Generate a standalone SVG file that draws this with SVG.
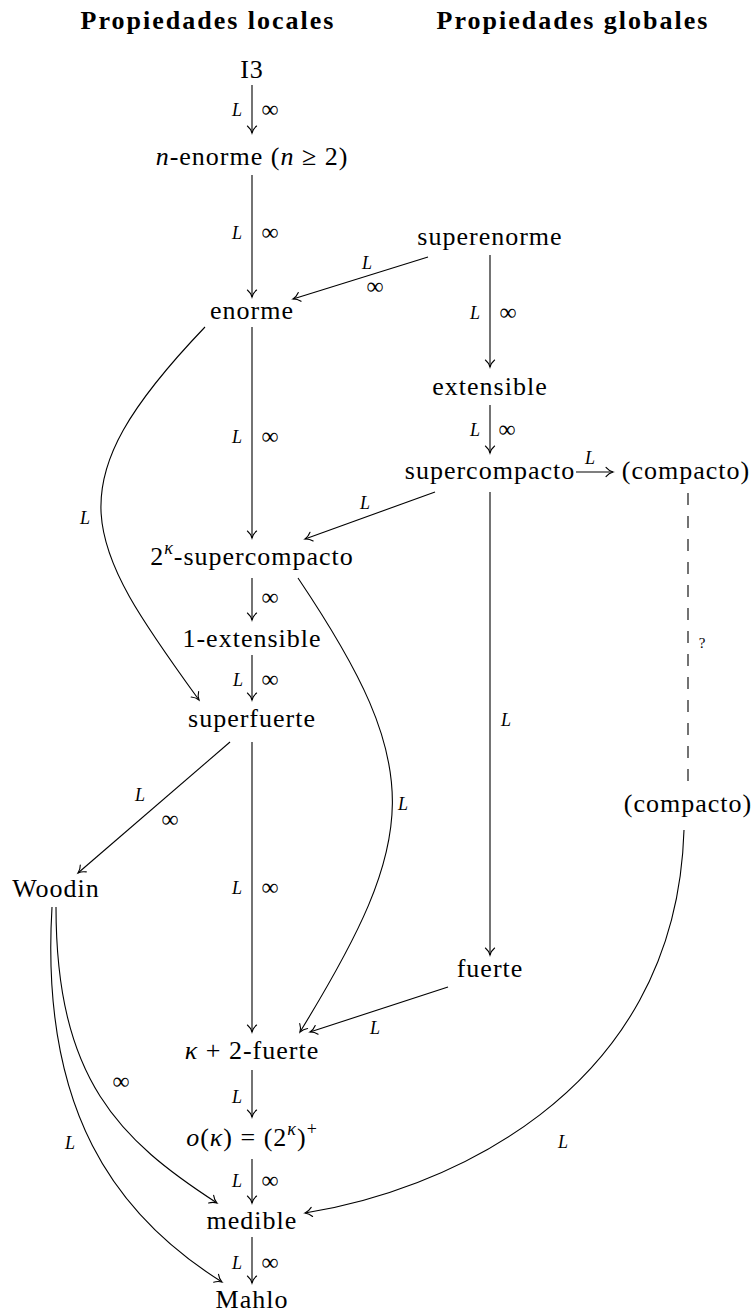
<svg xmlns="http://www.w3.org/2000/svg" width="755" height="1314" viewBox="0 0 755 1314" font-family="Liberation Serif, DejaVu Serif, serif">
<defs>
<marker id="to" markerUnits="userSpaceOnUse" markerWidth="14" markerHeight="14" viewBox="-10 -7 14 14" refX="0" refY="0" orient="auto">
<path d="M-7,-4.6 C-5,-2.2 -2,-0.6 0,0 C-2,0.6 -5,2.2 -7,4.6" fill="none" stroke="#000" stroke-width="1.1" stroke-linecap="round"/>
</marker>
<style>
text{font-family:"Liberation Serif","DejaVu Serif",serif;fill:#000}
.t{font-size:26px;letter-spacing:1px;text-anchor:middle}
.h{font-weight:bold;letter-spacing:2px}
.i{font-style:italic}
.sup{font-size:18px;font-style:italic}
.L{font-size:18px;font-style:italic;text-anchor:middle}
.inf{font-size:24px;text-anchor:middle}
.q{font-size:15px;text-anchor:middle}
.e{fill:none;stroke:#000;stroke-width:1.1;marker-end:url(#to)}
.d{fill:none;stroke:#000;stroke-width:1.1;stroke-dasharray:12 11}
</style>
</defs>
<g id="headings">
<text class="t h" x="208" y="29">Propiedades locales</text>
<text class="t h" x="573" y="29">Propiedades globales</text>
</g>
<g id="connectors">
<path class="e" d="M252,85 V133"/>
<path class="e" d="M252,175 V297"/>
<path class="e" d="M428,257 L293,299"/>
<path class="e" d="M490,255 V367"/>
<path class="e" d="M490,405 V453"/>
<path class="e" d="M576,472 H613"/>
<path class="e" d="M252,327 V538"/>
<path class="e" d="M435,492 L305,539"/>
<path class="e" d="M205,327 C52,487 83,540 199,700"/>
<path class="e" d="M252,578 V620"/>
<path class="e" d="M252,655 V700"/>
<path class="e" d="M230,742 L78,873"/>
<path class="e" d="M252,742 V1032"/>
<path class="e" d="M490,492 V955"/>
<path class="d" d="M688,493 V787"/>
<path class="e" d="M298,578 C427,770 420,836 300,1032"/>
<path class="e" d="M448,987 L310,1032"/>
<path class="e" d="M252,1070 V1117"/>
<path class="e" d="M252,1159 V1203"/>
<path class="e" d="M252,1237 V1283"/>
<path class="e" d="M56,907 C56,1080 120,1140 217,1203"/>
<path class="e" d="M52,907 C40,1110 115,1215 222,1282"/>
<path class="e" d="M684,830 C676,1099 434,1193 305,1213"/>
</g>
<g id="edge-labels">
<text class="L" x="237" y="116">L</text><text class="inf" x="270" y="117">∞</text>
<text class="L" x="237" y="239">L</text><text class="inf" x="270" y="240">∞</text>
<text class="L" x="367" y="269">L</text><text class="inf" x="375" y="294">∞</text>
<text class="L" x="475" y="319">L</text><text class="inf" x="508" y="320">∞</text>
<text class="L" x="475" y="436">L</text><text class="inf" x="507" y="437">∞</text>
<text class="L" x="590" y="464">L</text>
<text class="L" x="237" y="443">L</text><text class="inf" x="270" y="444">∞</text>
<text class="L" x="365" y="509">L</text>
<text class="L" x="85" y="524">L</text>
<text class="inf" x="270" y="605">∞</text>
<text class="L" x="238" y="686">L</text><text class="inf" x="270" y="687">∞</text>
<text class="L" x="140" y="801">L</text><text class="inf" x="170" y="827">∞</text>
<text class="L" x="237" y="894">L</text><text class="inf" x="270" y="895">∞</text>
<text class="L" x="506" y="726">L</text>
<text class="q" x="702" y="648">?</text>
<text class="L" x="403" y="810">L</text>
<text class="L" x="375" y="1034">L</text>
<text class="L" x="237" y="1103">L</text>
<text class="L" x="237" y="1187">L</text><text class="inf" x="270" y="1188">∞</text>
<text class="L" x="237" y="1269">L</text><text class="inf" x="270" y="1270">∞</text>
<text class="inf" x="121" y="1089">∞</text>
<text class="L" x="70" y="1149">L</text>
<text class="L" x="563" y="1148">L</text>
</g>
<g id="n-I3"><text class="t" x="252" y="78">I3</text></g>
<g id="n-nenorme"><text class="t" x="252" y="165"><tspan class="i">n</tspan>-enorme (<tspan class="i">n</tspan> ≥ 2)</text></g>
<g id="n-enorme"><text class="t" x="252" y="319">enorme</text></g>
<g id="n-superenorme"><text class="t" x="490" y="245">superenorme</text></g>
<g id="n-extensible"><text class="t" x="490" y="395">extensible</text></g>
<g id="n-supercompacto"><text class="t" x="490" y="479">supercompacto</text></g>
<g id="n-compacto-top"><text class="t" x="686" y="479">(compacto)</text></g>
<g id="n-2k-supercompacto"><text class="t" x="252" y="565">2<tspan class="sup" dy="-11">κ</tspan><tspan dy="11">-supercompacto</tspan></text></g>
<g id="n-1-extensible"><text class="t" x="252" y="647">1-extensible</text></g>
<g id="n-superfuerte"><text class="t" x="252" y="727">superfuerte</text></g>
<g id="n-woodin"><text class="t" x="56" y="897">Woodin</text></g>
<g id="n-compacto-bottom"><text class="t" x="688" y="812">(compacto)</text></g>
<g id="n-fuerte"><text class="t" x="490" y="977">fuerte</text></g>
<g id="n-k2-fuerte"><text class="t" x="252" y="1059"><tspan class="i">κ</tspan> + 2-fuerte</text></g>
<g id="n-ok"><text class="t" x="252" y="1146"><tspan class="i">o</tspan>(<tspan class="i">κ</tspan>) = (2<tspan class="sup" dy="-11">κ</tspan><tspan dy="11">)</tspan><tspan font-size="18" dy="-11">+</tspan></text></g>
<g id="n-medible"><text class="t" x="252" y="1229">medible</text></g>
<g id="n-mahlo"><text class="t" x="252" y="1308">Mahlo</text></g>
</svg>
